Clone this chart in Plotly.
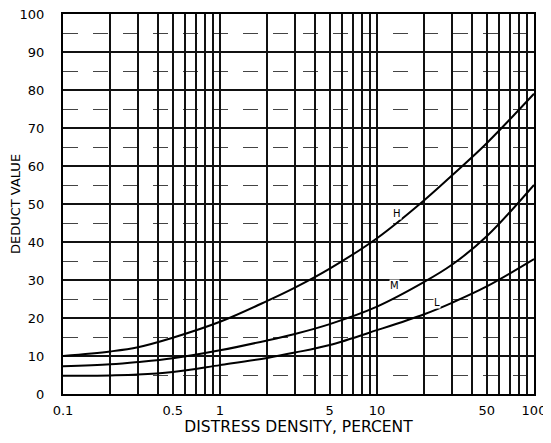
import math
import plotly.graph_objects as go

density = [0.1, 0.2, 0.3, 0.5, 1, 2, 3, 5, 10, 20, 30, 50, 100]
deduct_h = [10, 11.2, 12.3, 14.8, 19, 24.5, 28, 33, 41, 51, 57.5, 66, 79]
deduct_m = [7.3, 7.8, 8.4, 9.4, 11.5, 14.1, 15.8, 18.4, 23, 29.5, 34, 41.5, 55]
deduct_l = [4.8, 4.9, 5.1, 5.8, 7.6, 9.5, 10.9, 12.9, 16.8, 21, 24, 28.3, 35.5]

curve_labels = ["H", "M", "L"]
label_pos_x = [13.4, 13, 24]
label_pos_y = [47.5, 28.5, 24]

x_tick_vals = [0.1, 0.2, 0.3, 0.4, 0.5, 0.6, 0.7, 0.8, 0.9,
               1, 2, 3, 4, 5, 6, 7, 8, 9,
               10, 20, 30, 40, 50, 60, 70, 80, 90, 100]
x_labeled = {0.1: "0.1", 0.5: "0.5", 1: "1", 5: "5", 10: "10", 50: "50", 100: "100"}
x_tick_text = [x_labeled.get(v, "") for v in x_tick_vals]

fig = go.Figure()
for ys in (deduct_h, deduct_m, deduct_l):
    fig.add_trace(go.Scatter(x=density, y=ys, mode="lines",
                             line=dict(color="black", width=2, shape="spline", smoothing=1.0),
                             showlegend=False, hoverinfo="skip"))

for t, xv, yv in zip(curve_labels, label_pos_x, label_pos_y):
    fig.add_annotation(x=math.log10(xv), y=yv, xref="x", yref="y", text=t, showarrow=False,
                       bgcolor="white", borderpad=0,
                       font=dict(size=10, color="black", family="DejaVu Sans"))

font_fam = "DejaVu Sans"
fig.update_layout(
    width=551, height=443,
    margin=dict(l=55, r=25, t=6, b=57),
    paper_bgcolor="white", plot_bgcolor="white",
    font=dict(family=font_fam, color="black"),
    xaxis=dict(type="log", range=[-1, 2], tickvals=x_tick_vals, ticktext=x_tick_text,
               showgrid=True, gridcolor="#111111", gridwidth=1.5,
               showline=True, linecolor="black", linewidth=2, mirror=True,
               ticks="", ticklabelstandoff=3, tickfont=dict(size=13),
               ticklabeloverflow="allow",
               title=dict(text="DISTRESS DENSITY, PERCENT", font=dict(size=15.5), standoff=4),
               zeroline=False, automargin=False),
    yaxis=dict(range=[0, 100], dtick=10, tick0=0,
               showgrid=True, gridcolor="#111111", gridwidth=1.5,
               minor=dict(dtick=5, showgrid=True, gridcolor="#444444", griddash="longdash", gridwidth=1),
               showline=True, linecolor="black", linewidth=2, mirror=True,
               ticks="", ticklabelstandoff=14, tickfont=dict(size=13),
               ticklabeloverflow="allow",
               title=dict(text="DEDUCT VALUE", font=dict(size=13), standoff=14),
               zeroline=False, automargin=False),
)

fig.write_html("out.html")
